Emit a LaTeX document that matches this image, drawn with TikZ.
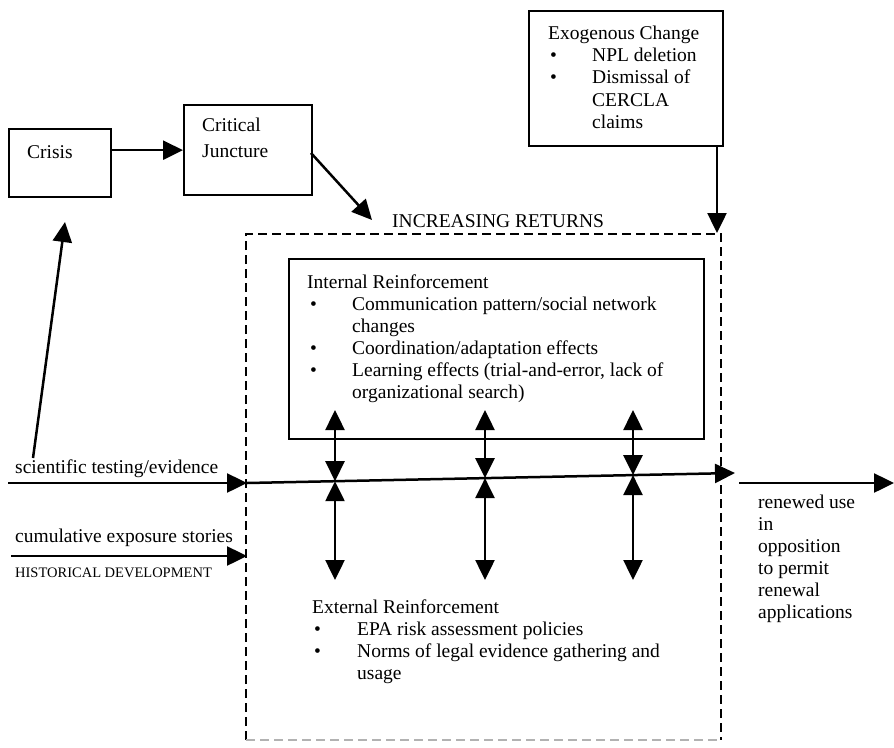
\documentclass[tikz,border=0pt]{standalone}
\usepackage{fontspec}
\setmainfont{Liberation Serif}
\usetikzlibrary{arrows.meta}
\begin{document}
\begin{tikzpicture}[x=1pt,y=-1pt,
  box/.style={draw, line width=2.3pt, inner sep=0pt, anchor=north west},
  arr/.style={line width=2.5pt, -{Triangle[length=20pt,width=19pt]}},
  darr/.style={line width=2.5pt, {Triangle[length=20pt,width=19pt]}-{Triangle[length=20pt,width=19pt]}},
  txt/.style={anchor=base west, inner sep=0pt, font=\fontsize{19.5}{22}\selectfont},
  smalltxt/.style={anchor=base west, inner sep=0pt, font=\fontsize{14.5}{17}\selectfont},
  dashbox/.style={line width=2.2pt, dash pattern=on 9pt off 5pt}]
\useasboundingbox (0,0) rectangle (894,747);

% boxes
\node[box, minimum width=102pt, minimum height=68pt] (crisis) at (8,128) {};
\node[box, minimum width=128pt, minimum height=90pt] (cj) at (183,104) {};
\node[box, minimum width=194pt, minimum height=135pt] (exo) at (528,10) {};
\node[box, minimum width=415pt, minimum height=180pt] (inner) at (288,258) {};

% dashed increasing returns region
\coordinate (irbl) at (246,740);
\coordinate (irtl) at (246,234);
\coordinate (irtr) at (721,234);
\coordinate (irbr) at (721,740);
\draw[dashbox] (irbl) -- (irtl) -- (irtr) -- (irbr);
\draw[dashbox, draw=black!30] (irbl) -- (irbr);

% texts
\node[txt] (tcrisis) at (27,158) {Crisis};
\node[txt] (tcj1) at (202,131) {Critical};
\node[txt] (tcj2) at (202,157) {Juncture};

\node[txt] (tex0) at (548,39) {Exogenous Change};
\node[txt] (bex1) at (550,61) {•};
\node[txt] (tex1) at (592,61) {NPL deletion};
\node[txt] (bex2) at (550,83) {•};
\node[txt] (tex2) at (592,83) {Dismissal of};
\node[txt] (tex3) at (592,106) {CERCLA};
\node[txt] (tex4) at (592,128) {claims};

\node[txt] (tir) at (392,227) {INCREASING RETURNS};

\node[txt] (tin0) at (307,288) {Internal Reinforcement};
\node[txt] (bin1) at (310,310) {•};
\node[txt] (tin1) at (352,310) {Communication pattern/social network};
\node[txt] (tin2) at (352,332) {changes};
\node[txt] (bin3) at (310,354) {•};
\node[txt] (tin3) at (352,354) {Coordination/adaptation effects};
\node[txt] (bin4) at (310,376) {•};
\node[txt] (tin4) at (352,376) {Learning effects (trial-and-error, lack of};
\node[txt] (tin5) at (352,398) {organizational search)};

\node[txt] (tst) at (15,473) {scientific testing/evidence};
\node[txt] (tcum) at (15,542) {cumulative exposure stories};
\node[smalltxt] (thist) at (15,577) {HISTORICAL DEVELOPMENT};

\node[txt] (tren1) at (758,508) {renewed use};
\node[txt] (tren2) at (758,530) {in};
\node[txt] (tren3) at (758,552) {opposition};
\node[txt] (tren4) at (758,574) {to permit};
\node[txt] (tren5) at (758,596) {renewal};
\node[txt] (tren6) at (758,618) {applications};

\node[txt] (tex0e) at (312,613) {External Reinforcement};
\node[txt] (bext1) at (314,635) {•};
\node[txt] (text1) at (357,635) {EPA risk assessment policies};
\node[txt] (bext2) at (314,657) {•};
\node[txt] (text2) at (357,657) {Norms of legal evidence gathering and};
\node[txt] (text3) at (357,679) {usage};

% connectors
\draw[arr] (crisis.east |- cj.west) -- (cj.west);
\coordinate (cjout) at (311,153);
\coordinate (irin) at (372,220);
\draw[arr] (cjout) -- (irin);
\coordinate (upstart) at (33,458);
\coordinate (crisisin) at (65,222);
\draw[arr] (upstart) -- (crisisin);
\coordinate (exoout) at (717,145);
\coordinate (exoin) at (717,233);
\draw[arr] (exoout) -- (exoin);

\coordinate (l0) at (8,483);
\coordinate (l1) at (247,483);
\coordinate (l2) at (735,473);
\draw[arr] (l0) -- (l1);
\draw[arr] (l1) -- (l2);

\coordinate (c0) at (11,556);
\coordinate (c1) at (247,556);
\draw[arr] (c0) -- (c1);

\coordinate (r0) at (739,483);
\coordinate (r1) at (894,483);
\draw[arr] (r0) -- (r1);

\foreach \x/\y [count=\i] in {335/481.2, 485/478.1, 633/475.1}{
  \coordinate (vt\i) at (\x,410);
  \coordinate (vm\i) at (\x,\y);
  \coordinate (vb\i) at (\x,580);
  \draw[darr] (vt\i) -- (vm\i);
  \draw[darr] (vm\i) -- (vb\i);
}
\end{tikzpicture}
\end{document}
